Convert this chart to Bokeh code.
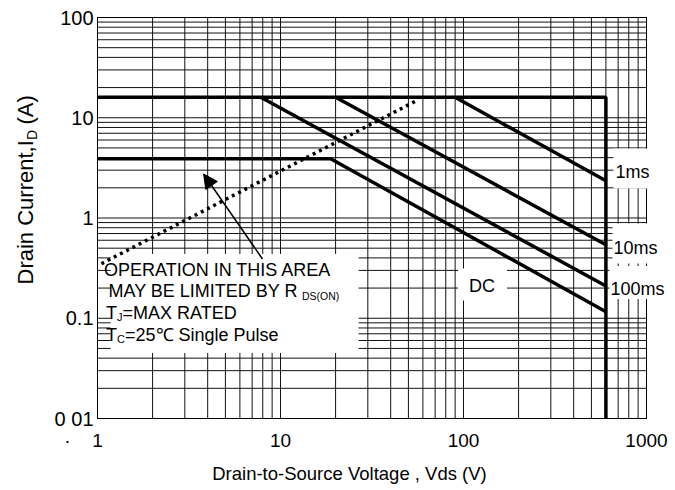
from math import pi, log10

from bokeh.plotting import figure
from bokeh.models import Label, Arrow, NormalHead
from bokeh.core.properties import value
from bokeh.embed import file_html
from bokeh.resources import INLINE

FONT = "Liberation Sans"

# Axis ticks and their printed labels
x_ticks = [1, 10, 100, 1000]
x_tick_labels = ["1", "10", "100", "1000"]
y_ticks = [0.01, 0.1, 1, 10, 100]
y_tick_labels = ["0 01", "0.1", "1", "10", "100"]

# Maximum ratings: pulsed drain current and drain-source voltage
max_current_v = [1, 600]
max_current_i = [16, 16]
max_voltage_v = [600, 600]
max_voltage_i = [16, 0.01]

# Power-limited boundaries for each pulse width (Vds in V, Id in A)
v_1ms = [90, 600]
i_1ms = [16, 2.35]
v_10ms = [20, 600]
i_10ms = [16, 0.54]
v_100ms = [7.8, 600]
i_100ms = [16, 0.21]
v_dc = [1, 18.8, 600]
i_dc = [3.9, 3.9, 0.116]

# On-resistance limit
v_rds = [1.05, 55]
i_rds = [0.35, 14.7]

# Page geometry: the chart box sits inside a full-page frame so that the
# titles and curve labels can be placed freely around it.
W, H = 675, 490
BOX_L, BOX_R, BOX_T, BOX_B = 97, 646, 17, 418
x_lo, x_hi = x_ticks[0], x_ticks[-1]
y_lo, y_hi = y_ticks[0], y_ticks[-1]
px_dec_x = (BOX_R - BOX_L) / log10(x_hi / x_lo)
px_dec_y = (BOX_B - BOX_T) / log10(y_hi / y_lo)
x_range = (x_lo / 10 ** (BOX_L / px_dec_x), x_hi * 10 ** ((W - BOX_R) / px_dec_x))
y_range = (y_lo / 10 ** ((H - BOX_B) / px_dec_y), y_hi * 10 ** (BOX_T / px_dec_y))

p = figure(
    width=W, height=H,
    x_axis_type="log", y_axis_type="log",
    x_range=x_range, y_range=y_range,
    x_axis_location=None, y_axis_location=None,
    output_backend="svg", toolbar_location=None,
    min_border=0, background_fill_color="white", border_fill_color="white",
)
p.outline_line_color = None
p.grid.visible = False

# Log grid: decades plus 2..9 within each decade
minor_x = [m * 10.0 ** k for k in range(0, 3) for m in range(2, 10)]
minor_y = [m * 10.0 ** k for k in range(-2, 2) for m in range(2, 10)]
grid_x = x_ticks + minor_x
grid_y = y_ticks + minor_y
GRID = "#111111"
p.multi_line(xs=[[v, v] for v in grid_x], ys=[[y_lo, y_hi] for _ in grid_x],
             line_color=GRID, line_width=1)
p.multi_line(xs=[[x_lo, x_hi] for _ in grid_y], ys=[[c, c] for c in grid_y],
             line_color=GRID, line_width=1)
p.quad(left=x_lo, right=x_hi, bottom=y_lo, top=y_hi,
       fill_color=None, line_color="black", line_width=1)

# Tick labels
p.text(x=x_ticks, y=[y_lo] * len(x_ticks), text=x_tick_labels,
       y_offset=22, text_align="center", text_baseline="middle",
       text_font=value(FONT), text_font_size=value("19px"), text_color="black")
p.text(x=[x_lo] * len(y_ticks), y=y_ticks, text=y_tick_labels,
       x_offset=-4, text_align="right", text_baseline="middle",
       text_font=value(FONT), text_font_size=value("20px"), text_color="black")

# White panel behind the note text
p.quad(left=1.18, right=26.7, bottom=0.045, top=0.437,
       fill_color="white", line_color=None)

# SOA boundaries
p.line(max_current_v + max_voltage_v[1:], max_current_i + max_voltage_i[1:],
       line_width=3.5, color="black")
for vs, cs in ((v_1ms, i_1ms), (v_10ms, i_10ms), (v_100ms, i_100ms), (v_dc, i_dc)):
    p.line(vs, cs, line_width=3.5, color="black")
p.line(v_rds, i_rds, line_width=3.5, line_dash="3 4", color="black")

p.add_layout(Arrow(
    end=NormalHead(size=14, fill_color="black", line_color="black"),
    x_start=7.97, y_start=0.39, x_end=3.8, y_end=2.75,
    line_width=1.5, line_color="black",
))


def put(cx, cy, text, size, align="left", baseline="alphabetic",
        angle=0.0, pad=None):
    """Place a label at page pixel (cx, cy) measured from the top-left.

    pad is (left, right, top, bottom) around a white background box; the
    anchor then refers to the box edge rather than the text.
    """
    lab = Label(
        x=cx, y=H - cy, x_units="screen", y_units="screen",
        text=text, text_font=FONT, text_font_size=f"{size}px",
        text_align=align, text_baseline=baseline, angle=angle,
        text_color="black",
    )
    if pad is not None:
        lab.background_fill_color = "white"
        lab.padding = pad
    p.add_layout(lab)


# Note text
put(103.5, 269.3, "OPERATION IN THIS AREA", 18)
put(108, 290.7, "MAY BE LIMITED BY R", 18)
put(301.5, 295, "DS(ON)", 10.5)
put(105.5, 312.3, "T", 18)
put(116.5, 316, "J", 11)
put(122, 312.3, "=MAX RATED", 18)
put(105.5, 334.3, "T", 18)
put(116.5, 338, "C", 11)
put(124.5, 334.3, "=25\u2103 Single Pulse", 18)

# Curve labels on white boxes
put(613, 168, "1ms", 18, baseline="middle", pad=(2, 10, 13, 7))
put(612, 243, "10ms", 18, baseline="middle", pad=(1, 8, 14, 6))
put(609, 282, "100ms", 18, baseline="middle", pad=(1, 6, 13, 0))
put(482, 284, "DC", 18, align="center", baseline="middle", pad=(11, 12, 7, 5))

# Axis titles (vertical one reads bottom to top, with a subscript D)
put(349, 473, "Drain-to-Source Voltage , Vds (V)", 18.5,
    align="center", baseline="middle")
put(25, 284, "Drain Current,I", 22, baseline="middle", angle=pi / 2)
put(31.5, 139.5, "D", 14, baseline="middle", angle=pi / 2)
put(25, 124, "(A)", 22, baseline="middle", angle=pi / 2)
put(67, 440, "\u00b7", 19, align="center", baseline="middle")

open("out.html", "w").write(file_html(p, INLINE))
